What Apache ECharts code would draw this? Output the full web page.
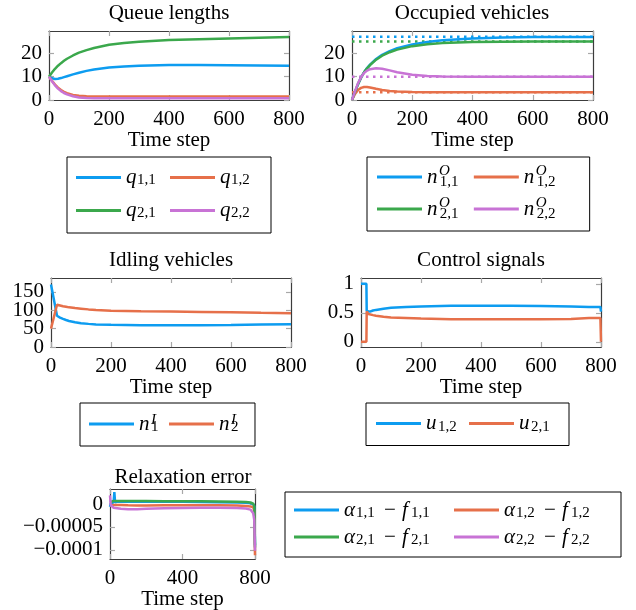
<!DOCTYPE html>
<html>
<head>
<meta charset="utf-8">
<script src="https://cdn.jsdelivr.net/npm/echarts@6/dist/echarts.min.js"></script>
<style>
  html, body { margin: 0; padding: 0; background: #fff; }
  #chart { width: 636px; height: 610px; }
</style>
</head>
<body>
<div id="chart"></div>
<script>
// ---- data ----
// queue lengths
const tQueue = [0, 10, 20, 30, 40, 50, 60, 80, 100, 125, 150, 200, 250, 300, 400, 500, 600, 700, 800];
const q11 = [10, 9.3, 9.0, 9.1, 9.4, 9.8, 10.2, 11.0, 11.7, 12.5, 13.1, 13.9, 14.4, 14.7, 15.0, 15.0, 14.9, 14.8, 14.7];
const q12 = [10, 8.2, 6.6, 5.3, 4.3, 3.5, 2.9, 2.2, 1.8, 1.6, 1.5, 1.5, 1.5, 1.5, 1.5, 1.5, 1.5, 1.5, 1.5];
const q21 = [10, 11.8, 13.4, 14.7, 15.8, 16.8, 17.7, 19.1, 20.3, 21.4, 22.3, 23.7, 24.5, 25.0, 25.7, 26.1, 26.4, 26.7, 27.0];
const q22 = [10, 8.0, 6.3, 4.9, 3.8, 3.0, 2.4, 1.6, 1.1, 0.9, 0.8, 0.7, 0.7, 0.7, 0.7, 0.7, 0.7, 0.7, 0.7];

// occupied vehicles (solid) and their targets (dotted)
const tOcc = [0, 10, 20, 30, 40, 50, 60, 80, 100, 125, 150, 200, 250, 300, 400, 500, 600, 700, 800];
const nO11 = [0, 3.5, 6.8, 9.6, 11.9, 13.7, 15.2, 17.6, 19.4, 21.0, 22.2, 23.8, 24.9, 25.6, 26.4, 26.8, 27.0, 27.0, 27.0];
const nO12 = [0, 2.6, 4.3, 5.2, 5.6, 5.6, 5.4, 4.8, 4.3, 3.9, 3.6, 3.4, 3.3, 3.3, 3.3, 3.3, 3.3, 3.3, 3.3];
const nO21 = [0, 3.5, 6.8, 9.6, 11.9, 13.6, 15.0, 17.3, 19.0, 20.5, 21.6, 23.1, 23.9, 24.4, 24.9, 25.0, 25.1, 25.1, 25.1];
const nO22 = [0, 3.8, 7.2, 9.8, 11.6, 12.6, 13.2, 13.6, 13.4, 12.7, 11.9, 10.8, 10.3, 10.1, 10.0, 10.0, 10.0, 10.0, 10.0];
const tRef = [0, 800];
const ref11 = [27.1, 27.1];
const ref12 = [3.3, 3.3];
const ref21 = [25.1, 25.1];
const ref22 = [10.0, 10.0];

// idling vehicles
const tIdle = [0, 20, 30, 40, 50, 60, 80, 100, 125, 150, 200, 300, 400, 500, 600, 700, 800];
const nI1 = [170, 85, 80, 76.5, 73.5, 71, 67.5, 65, 63, 61.5, 60.5, 59.5, 59, 59.3, 60, 61, 62];
const nI2 = [50, 115, 113, 111, 109.5, 108, 106, 104.5, 102.5, 101, 99, 97.5, 96.5, 95.5, 94.5, 93, 92];

// control signals
const tCtrl = [0, 18, 19, 20, 25, 30, 40, 50, 75, 100, 150, 200, 300, 400, 500, 600, 700, 760, 790, 798, 800];
const u12 = [1, 1, 0.53, 0.52, 0.51, 0.52, 0.54, 0.55, 0.57, 0.585, 0.6, 0.61, 0.62, 0.62, 0.62, 0.615, 0.61, 0.6, 0.6, 0.6, 0.52];
const u21 = [0, 0, 0.52, 0.5, 0.48, 0.47, 0.46, 0.45, 0.43, 0.42, 0.41, 0.4, 0.39, 0.39, 0.39, 0.39, 0.395, 0.41, 0.41, 0.41, 0];

// relaxation error
const tErr = [0, 4, 10, 20, 24, 28, 40, 60, 100, 150, 200, 300, 400, 500, 600, 700, 750, 775, 790, 796, 800];
const e11 = [-6e-6, 2e-6, 3e-6, 4e-6, 2.6e-5, 4e-6, 5e-6, 5e-6, 5e-6, 5e-6, 5e-6, 5e-6, 5e-6, 4.5e-6, 4e-6, 3.5e-6, 3e-6, 2e-6, 0, -5e-6, -9.0e-5];
const e12 = [-3e-6, -4e-6, -3e-6, -2e-6, -2e-6, -3e-6, -2e-6, -2e-6, -2.5e-6, -3e-6, -3e-6, -2.5e-6, -2.5e-6, -2.5e-6, -2.5e-6, -3e-6, -4e-6, -5e-6, -7e-6, -1.5e-5, -1.12e-4];
const e21 = [4e-6, 6e-6, 7e-6, 7e-6, 9e-6, 7e-6, 7e-6, 7e-6, 6.5e-6, 6.5e-6, 6.5e-6, 6e-6, 6e-6, 6e-6, 5.5e-6, 5e-6, 4.5e-6, 3.5e-6, 1e-6, -5e-6, -9.5e-5];
const e22 = [1.9e-5, -2e-6, -6e-6, -8e-6, -7e-6, -8e-6, -9e-6, -1e-5, -1.1e-5, -1.1e-5, -1e-5, -9e-6, -8.5e-6, -8e-6, -8e-6, -8.5e-6, -9.5e-6, -1.2e-5, -2e-5, -3.5e-5, -1.02e-4];

// tick labels
const xStepWide = 200;
const xStepNarrow = 400;
const yTicksQueue = [0, 10, 20];
const yTicksIdle = [0, 50, 100, 150];
const yTicksCtrl = [0, 0.5, 1];
const yTicksErr = [-0.0001, -0.00005, 0];

// legend text (rich text markup); "se" is a subscript that closes an item
const legendText = {
  q11: '{q|q}{sb|1,1}', q12: '{q|q}{sb|1,2}', q21: '{q|q}{sb|2,1}', q22: '{q|q}{sb|2,2}',
  nO11: '{n|n}{spO|O}{sb|1,1}', nO12: '{n|n}{spO|O}{sb|1,2}', nO21: '{n|n}{spO|O}{sb|2,1}', nO22: '{n|n}{spO|O}{sb|2,2}',
  nI1: '{n|n}{spI|I}{sb|1}', nI2: '{n|n}{spI|I}{sb|2}',
  u12: '{u|u}{sb|1,2}', u21: '{u|u}{sb|2,1}',
  e11: '{a|α}{sb|1,1}{m|−}{f|f}{se|1,1}', e12: '{a|α}{sb|1,2}{m|−}{f|f}{se|1,2}',
  e21: '{a|α}{sb|2,1}{m|−}{f|f}{se|2,1}', e22: '{a|α}{sb|2,2}{m|−}{f|f}{se|2,2}'
};

// ---- styling ----
const FONT = 'Liberation Serif';
const FS = 21, SUB = 15;
const BLUE = '#0d9cf0', ORANGE = '#e6704a', GREEN = '#3ba84c', PURPLE = '#c873d5';

const grids = [
  { left: 49, top: 31, width: 240, height: 69 },
  { left: 352, top: 31, width: 241, height: 69 },
  { left: 51, top: 278, width: 240, height: 69 },
  { left: 361, top: 278, width: 240, height: 69 },
  { left: 110, top: 489, width: 145, height: 70 }
];

const axisLine = { show: true, onZero: false, lineStyle: { color: '#3c3c3c', width: 1.2 } };
const tickStyle = { show: true, inside: true, length: 5, lineStyle: { color: '#a8a8a8', width: 1.2 } };
const labelFont = { fontFamily: FONT, fontSize: FS, color: '#000' };
const labelCommon = { margin: 7, lineHeight: 14, showMinLabel: true, showMaxLabel: true, hideOverlap: false };
const fmtNum = v => (v < 0 ? '\u2212' + String(-v) : String(v));

function xPair(gi, step) {
  const base = { type: 'value', gridIndex: gi, min: 0, max: 800, interval: step,
    splitLine: { show: false }, axisLine: axisLine, axisTick: tickStyle };
  return [
    Object.assign({}, base, { position: 'bottom', name: 'Time step', nameLocation: 'middle', nameGap: 21,
      nameTextStyle: labelFont,
      axisLabel: Object.assign({}, labelCommon, { margin: 12 }, labelFont) }),
    Object.assign({}, base, { position: 'top', axisLabel: { show: false } })
  ];
}

// left axis (labels + ticks) and mirrored right axis; labelVals may be a subset of ticks
function yPair(gi, min, max, ticks, labelVals) {
  const base = { type: 'value', gridIndex: gi, min: min, max: max, splitLine: { show: false },
    axisLine: axisLine, axisTick: Object.assign({}, tickStyle, { customValues: ticks }) };
  return [
    Object.assign({}, base, { position: 'left',
      axisLabel: Object.assign({ customValues: labelVals || ticks, formatter: fmtNum }, labelCommon, labelFont) }),
    Object.assign({}, base, { position: 'right', axisLabel: { show: false } })
  ];
}

// extra label-only axis, so closely spaced labels are not dropped
function yLabelsOnly(gi, min, max, vals) {
  return { type: 'value', gridIndex: gi, min: min, max: max, position: 'left', offset: 0,
    splitLine: { show: false }, axisLine: { show: false }, axisTick: { show: false },
    axisLabel: Object.assign({ customValues: vals, formatter: fmtNum }, labelCommon, labelFont) };
}

function line(name, gi, xs, ys, color, dotted) {
  return {
    type: 'line', name: name, xAxisIndex: 2 * gi, yAxisIndex: 2 * gi,
    data: xs.map((x, k) => [x, ys[k]]),
    symbol: 'none', color: color, silent: true, z: dotted ? 1 : 2,
    lineStyle: { width: 2.5, color: color, type: dotted ? [2.5, 4.5] : 'solid', cap: 'butt' }
  };
}

// rich text pieces for one legend; h = line height, sw = subscript width, ew = closing subscript width
function richFor(h, sw, ew) {
  const it = w => ({ fontFamily: FONT, fontStyle: 'italic', fontSize: FS, lineHeight: h, width: w, color: '#000' });
  const sub = w => ({ fontFamily: FONT, fontSize: SUB, lineHeight: h - 11.6, width: w, verticalAlign: 'bottom', color: '#000' });
  const sup = pr => ({ fontFamily: FONT, fontStyle: 'italic', fontSize: SUB, lineHeight: h - 10.4,
    verticalAlign: 'top', padding: [0, pr, 0, 0], color: '#000' });
  return {
    q: it(11), n: it(12), u: it(12), a: it(12), f: it(9),
    m: { fontFamily: FONT, fontSize: FS, lineHeight: h, width: 12, padding: [0, 6, 0, 7], color: '#000' },
    sb: sub(sw), se: sub(ew || sw),
    spO: sup(-10),
    spI: sup(-5)
  };
}

function legend(names, o) {
  return {
    data: names, left: o.left, top: o.top, width: o.width, padding: o.pad,
    orient: 'horizontal', itemGap: o.gap, itemWidth: 45, itemHeight: 3, icon: 'rect',
    borderColor: '#000', borderWidth: 1, borderRadius: 0, selectedMode: false,
    formatter: n => legendText[n],
    textStyle: { fontFamily: FONT, fontSize: FS, color: '#000', rich: richFor(o.h, o.sw, o.ew) }
  };
}

const titleStyle = { fontFamily: FONT, fontSize: FS, fontWeight: 'normal', color: '#000' };
function title(text, cx, top) {
  return { text: text, left: cx, top: top, textAlign: 'center', padding: 0, textStyle: titleStyle };
}

const chart = echarts.init(document.getElementById('chart'), null, { renderer: 'canvas' });

chart.setOption({
  animation: false,
  backgroundColor: '#fff',
  title: [
    title('Queue lengths', 169, 3),
    title('Occupied vehicles', 472, 3),
    title('Idling vehicles', 171, 250),
    title('Control signals', 481, 250),
    title('Relaxation error', 183, 467)
  ],
  grid: grids.map(g => Object.assign({ outerBoundsMode: 'none', containLabel: false }, g)),
  xAxis: [].concat(xPair(0, xStepWide), xPair(1, xStepWide), xPair(2, xStepWide), xPair(3, xStepWide), xPair(4, xStepNarrow)),
  yAxis: [].concat(
    yPair(0, 0, 29.6, yTicksQueue),
    yPair(1, 0, 29.6, yTicksQueue),
    yPair(2, 0, 188, yTicksIdle, yTicksIdle.filter((v, k) => k % 2 === 0)),
    yPair(3, -0.09, 1.1, yTicksCtrl),
    yPair(4, -0.000120, 0.000033, yTicksErr),
    [yLabelsOnly(2, 0, 188, yTicksIdle.filter((v, k) => k % 2 === 1))]
  ),
  legend: [
    legend(['q11', 'q12', 'q21', 'q22'], { left: 67, top: 157, pad: [10, 19, 12, 9], gap: 12, h: 20, sw: 21, width: 180 }),
    legend(['nO11', 'nO12', 'nO21', 'nO22'], { left: 367, top: 157, pad: [7, 25, 9, 10], gap: 6, h: 26, sw: 28, width: 190 }),
    legend(['nI1', 'nI2'], { left: 80, top: 403, pad: [10, 15, 11, 9], gap: 9, h: 22, sw: 9 }),
    legend(['u12', 'u21'], { left: 366, top: 403, pad: [10, 17, 11, 10], gap: 10, h: 22, sw: 21 }),
    legend(['e11', 'e12', 'e21', 'e22'], { left: 285, top: 492, pad: [7.5, 13, 9.5, 9], gap: 6, h: 21, sw: 21, ew: 37, width: 315 })
  ],
  series: [
    line('q11', 0, tQueue, q11, BLUE),
    line('q12', 0, tQueue, q12, ORANGE),
    line('q21', 0, tQueue, q21, GREEN),
    line('q22', 0, tQueue, q22, PURPLE),

    line('ref11', 1, tRef, ref11, BLUE, true),
    line('ref12', 1, tRef, ref12, ORANGE, true),
    line('ref21', 1, tRef, ref21, GREEN, true),
    line('ref22', 1, tRef, ref22, PURPLE, true),
    line('nO11', 1, tOcc, nO11, BLUE),
    line('nO12', 1, tOcc, nO12, ORANGE),
    line('nO21', 1, tOcc, nO21, GREEN),
    line('nO22', 1, tOcc, nO22, PURPLE),

    line('nI1', 2, tIdle, nI1, BLUE),
    line('nI2', 2, tIdle, nI2, ORANGE),

    line('u12', 3, tCtrl, u12, BLUE),
    line('u21', 3, tCtrl, u21, ORANGE),

    line('e11', 4, tErr, e11, BLUE),
    line('e12', 4, tErr, e12, ORANGE),
    line('e21', 4, tErr, e21, GREEN),
    line('e22', 4, tErr, e22, PURPLE)
  ]
});
</script>
</body>
</html>
